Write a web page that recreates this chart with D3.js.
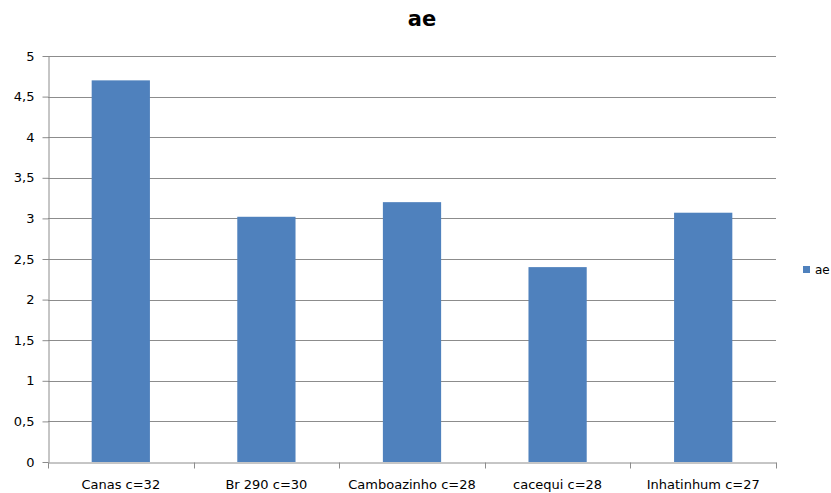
<!DOCTYPE html>
<html><head><meta charset="utf-8">
<script src="https://cdn.jsdelivr.net/npm/d3@7"></script>
<style>body{margin:0;background:#fff}svg{display:block}text{font-family:"DejaVu Sans",sans-serif}</style>
</head><body>
<svg id="c" width="831" height="493"></svg>
<script>
const categories = ["Canas c=32","Br 290 c=30","Camboazinho c=28","cacequi c=28","Inhatinhum c=27"];
const values = [4.7, 3.02, 3.2, 2.4, 3.07];
const seriesName = "ae";
const yTicks = [0,0.5,1,1.5,2,2.5,3,3.5,4,4.5,5];

const svg = d3.select("#c");
const m = {left:48, right:776, top:56, bottom:462};
const x = d3.scaleBand().domain(categories).range([m.left, m.right]).paddingInner(0.6).paddingOuter(0.3);
const xb = d3.scaleBand().domain(categories).range([m.left, m.right]);
const y = d3.scaleLinear().domain([0,5]).range([m.bottom, m.top]);
const fmt = d => String(d).replace(".", ",");

svg.append("text").attr("x", 422).attr("y", 26).attr("text-anchor","middle")
  .style("font-size","21px").style("font-weight","bold").text(seriesName);

// grid
svg.append("g").selectAll("line").data(yTicks.filter(d=>d>0)).join("line")
  .attr("x1", m.left).attr("x2", m.right).attr("y1", d=>Math.round(y(d))+0.5).attr("y2", d=>Math.round(y(d))+0.5)
  .attr("stroke","#8c8c8c").attr("stroke-width",1);

// bars
svg.append("g").selectAll("rect").data(values).join("rect")
  .attr("x",(d,i)=>x(categories[i])).attr("width", x.bandwidth())
  .attr("y", d=>y(d)).attr("height", d=>y(0)-y(d)).attr("fill","#4F81BD");

// y axis
const ya = svg.append("g").attr("transform",`translate(${m.left+0.5},0)`)
  .call(d3.axisLeft(y).tickValues(yTicks).tickFormat(fmt).tickSize(6).tickSizeOuter(0));
ya.select(".domain").attr("stroke","#8c8c8c");
ya.selectAll(".tick line").attr("stroke","#8c8c8c");
ya.selectAll(".tick text").attr("x",-14).style("font-size","13px").attr("fill","#000");

// x axis
const xa = svg.append("g").attr("transform",`translate(0,${Math.round(y(0))+0.5})`)
  .call(d3.axisBottom(xb).tickSize(0).tickSizeOuter(0));
xa.select(".domain").attr("stroke","#8c8c8c");
xa.selectAll(".tick text").attr("y",17).style("font-size","13px").attr("fill","#000");
const bounds = [m.left, ...categories.map(c=>xb(c)+xb.bandwidth())];
xa.selectAll("line.b").data(bounds).join("line").attr("class","b")
  .attr("x1",d=>Math.round(d)+0.5).attr("x2",d=>Math.round(d)+0.5).attr("y1",0).attr("y2",6)
  .attr("stroke","#8c8c8c");

// legend
svg.append("rect").attr("x",803).attr("y",266).attr("width",7).attr("height",7).attr("fill","#4F81BD");
svg.append("text").attr("x",815).attr("y",274).style("font-size","12px").text(seriesName);
</script>
</body></html>
